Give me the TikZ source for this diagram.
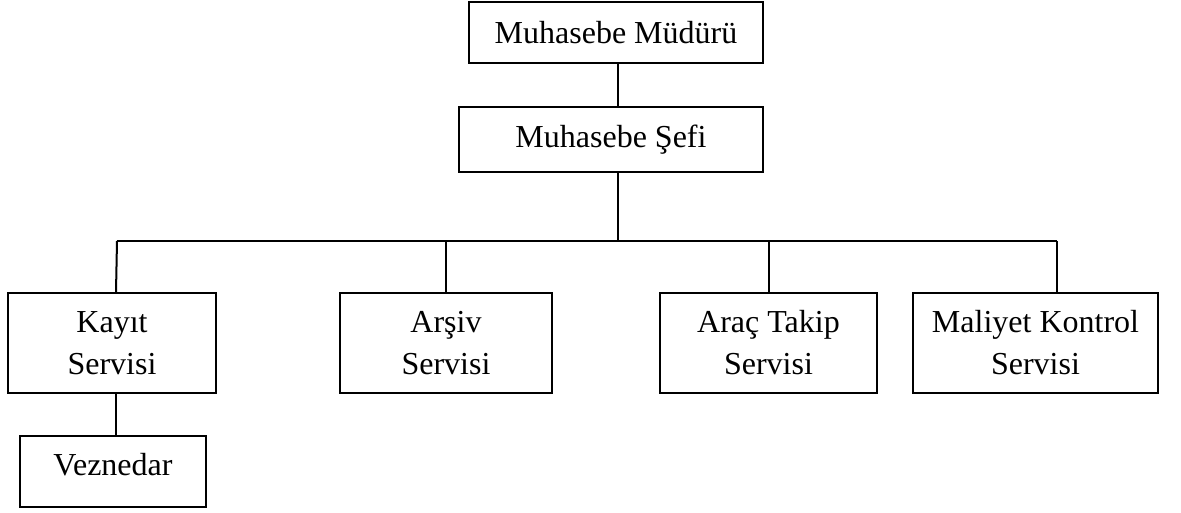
\documentclass[tikz,border=0pt]{standalone}
\usepackage{fontspec}
\setmainfont{Liberation Serif}
\begin{document}
\begin{tikzpicture}[x=1pt,y=-1pt,
  box/.style={draw=black, line width=2.2pt, rectangle, inner sep=0pt, align=center,
    font=\fontsize{32}{42}\selectfont},
  conn/.style={draw=black, line width=2pt}]
\useasboundingbox (0,0) rectangle (1181,512);
\node[box, minimum width=294, minimum height=61] (mud) at (616,32.5) {Muhasebe Müdürü};
\node[box, minimum width=304, minimum height=65] (sef) at (611,139.5) {Muhasebe Şefi};
\node[box, minimum width=208, minimum height=100] (kay) at (112,343) {Kayıt\\Servisi};
\node[box, minimum width=212, minimum height=100] (ars) at (446,343) {Arşiv\\Servisi};
\node[box, minimum width=217, minimum height=100] (arc) at (768.5,343) {Araç Takip\\Servisi};
\node[box, minimum width=245, minimum height=100] (mal) at (1035.5,343) {Maliyet Kontrol\\Servisi};
\node[box, minimum width=186, text height=39, text depth=32, anchor=base] (vez) at (113,475) {Veznedar};
\coordinate (bus) at (618,241);
\coordinate (busL) at (117,241);
\coordinate (busR) at (1057,241);
\draw[conn] ([xshift=2]mud.south) -- ([xshift=2]mud.south |- sef.north);
\draw[conn] (sef.south -| bus) -- (bus);
\draw[conn] (busL) -- (busR);
\draw[conn] (busL) -- ([xshift=4]kay.north);
\draw[conn] (ars.north |- bus) -- (ars.north);
\draw[conn] ([xshift=0.5]arc.north |- bus) -- ([xshift=0.5]arc.north);
\draw[conn] (busR) -- (busR |- mal.north);
\draw[conn] ([xshift=4]kay.south) -- ([xshift=4]kay.south |- vez.north);
\end{tikzpicture}
\end{document}
